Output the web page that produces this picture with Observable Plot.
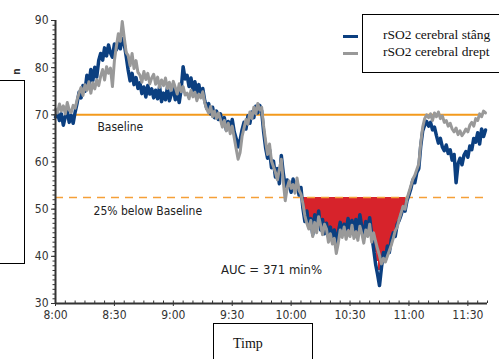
<!DOCTYPE html>
<html><head><meta charset="utf-8">
<script src="https://cdn.jsdelivr.net/npm/d3@7"></script>
<script src="https://cdn.jsdelivr.net/npm/@observablehq/plot@0.6"></script>
<style>
body{margin:0;background:#fff;}
#wrap{position:relative;width:499px;height:359px;overflow:hidden;background:#fff;}
#wrap svg{position:absolute;left:0;top:0;}
.box{position:absolute;border:1.5px solid #000;box-sizing:border-box;background:#fff;}
.serif{font-family:"Liberation Serif","DejaVu Serif",serif;color:#111;}
</style></head><body><div id="wrap"></div>
<script>
// time axis: one sample per minute starting at 8:00
const startTime = "2000-01-01T08:00:00Z";
const endTime = "2000-01-01T11:40:00Z";
// rSO2 cerebral stâng (blue)
const stangValues = [
 69.5,70.5,68.8,70.2,67.8,69.6,70.8,68.4,69.9,68.2,70.6,
 72.5,74.8,73.6,76.2,75.0,
 78.4,76.5,79.6,77.2,80.1,78.0,81.5,
 83.0,81.6,84.2,82.5,84.8,83.1,82.2,85.0,
 83.8,85.6,84.0,86.2,85.0,82.4,
 79.5,77.2,78.8,76.4,77.9,75.6,
 76.8,74.5,75.9,73.8,76.2,74.4,75.5,73.6,
 75.2,73.4,76.0,72.8,74.6,73.2,75.8,73.0,74.4,75.6,
 73.2,74.8,72.6,75.4,80.2,77.6,
 78.4,76.0,77.8,75.2,77.0,74.6,76.4,74.0,75.6,
 73.0,71.4,72.4,70.2,71.6,69.4,70.8,69.0,
 70.2,68.0,69.4,66.8,68.6,67.2,69.0,66.4,
 65.0,63.2,64.6,66.8,
 68.4,67.0,69.8,68.2,70.6,69.4,71.8,70.4,72.0,
 70.8,66.4,63.0,60.8,62.6,58.8,
 60.2,56.8,58.6,55.4,61.4,57.6,54.8,56.2,
 55.2,53.6,56.4,54.2,55.8,53.0,54.6,
 50.2,47.4,49.6,46.2,48.0,44.6,
 48.8,46.4,49.6,45.6,47.8,44.8,
 47.0,44.2,46.2,43.4,45.6,42.8,
 45.0,47.2,44.6,46.8,45.4,48.0,46.0,47.6,45.2,
 47.8,45.6,48.8,46.2,44.4,47.4,45.8,48.2,44.6,
 41.6,38.4,36.2,33.8,
 37.6,40.8,39.4,42.2,40.8,
 43.6,45.0,44.2,46.8,47.6,
 48.8,50.2,49.6,51.8,53.0,
 54.4,56.2,55.6,57.8,58.6,
 63.4,66.6,67.8,68.6,
 67.6,68.4,66.8,67.4,65.6,64.0,65.0,63.2,62.4,63.6,61.8,62.6,60.4,61.6,55.6,
 59.6,60.8,59.4,61.4,62.2,61.0,63.4,62.6,65.0,64.2,66.2,63.8,67.0,65.4,66.8
];
// rSO2 cerebral drept (gray)
const dreptValues = [
 71.2,70.4,72.3,70.8,71.9,70.2,72.6,71.0,70.5,72.0,71.4,
 73.2,74.6,75.8,74.1,76.4,
 75.2,77.0,74.6,76.8,75.5,77.4,76.2,
 78.2,79.6,77.4,80.2,78.8,79.9,76.0,81.5,
 84.5,87.2,85.6,89.8,86.4,83.2,
 82.6,80.4,83.0,79.8,81.5,79.0,
 78.4,76.9,79.2,77.5,78.8,76.6,77.8,78.6,
 76.5,78.0,75.8,77.4,76.2,77.8,75.6,76.9,75.2,77.1,
 75.8,74.4,76.6,74.9,76.0,74.2,
 74.6,73.4,75.2,73.8,74.8,73.0,74.4,73.6,74.9,
 72.6,71.2,70.4,71.8,69.6,70.8,69.2,70.4,
 69.0,67.4,68.8,66.6,68.2,66.0,67.6,65.2,
 62.8,60.6,62.0,65.4,
 67.2,69.0,68.0,70.6,69.2,71.6,70.2,72.4,71.0,
 71.6,67.6,64.4,61.6,63.8,60.2,
 59.0,57.8,56.2,58.4,60.6,55.8,51.8,54.6,
 56.0,54.4,55.2,53.4,56.6,54.0,53.2,
 51.2,48.6,47.0,45.8,47.6,44.2,
 47.2,45.0,48.4,46.6,44.6,46.8,
 45.8,43.0,44.8,42.6,43.8,40.6,
 42.8,45.6,44.0,46.2,43.6,45.4,44.2,46.6,43.8,
 45.2,43.4,46.4,44.8,42.8,45.6,44.2,46.8,43.0,
 45.0,43.2,41.6,40.2,
 38.4,39.6,38.8,40.0,41.2,
 42.4,43.8,45.4,46.2,47.8,
 49.2,50.6,50.0,52.2,53.6,
 55.0,56.4,57.2,58.4,59.6,
 64.0,67.4,69.2,70.0,
 69.4,70.2,68.8,70.4,69.6,70.6,69.2,69.8,68.4,68.8,67.6,68.2,67.0,66.4,67.2,
 65.8,66.6,65.6,66.2,67.0,66.4,67.8,68.4,67.6,69.2,68.8,70.2,69.6,70.8,70.4
];
const seriesNames = ["rSO2 cerebral stâng","rSO2 cerebral drept"];
const seriesColors = ["#0b3f80","#999999"];
const baseline = 70;
const threshold = 52.5;
const baselineFrom = "2000-01-01T08:10:00Z";
const baselineTo = "2000-01-01T11:38:00Z";
const annotations = [
  {text:"Baseline", t:"2000-01-01T08:33:00Z", v:67.3, size:12, weight:400},
  {text:"25% below Baseline", t:"2000-01-01T08:47:00Z", v:49.6, size:12, weight:400},
  {text:"AUC = 371 min%", t:"2000-01-01T09:50:00Z", v:37.2, size:13, weight:700}
];
const yTicks = [30,40,50,60,70,80,90];
const xTitle = "Timp";

const t0 = new Date(startTime).getTime();
const rows = [];
stangValues.forEach((v,i)=>rows.push({t:new Date(t0+i*60000), v, s:seriesNames[0]}));
dreptValues.forEach((v,i)=>rows.push({t:new Date(t0+i*60000), v, s:seriesNames[1]}));
const mean = stangValues.map((v,i)=>({t:new Date(t0+i*60000), v:(v+dreptValues[i])/2}));
const ann = annotations.map(a=>({...a, t:new Date(a.t)}));
const font = '"DejaVu Sans Condensed","Liberation Sans Narrow","Arial Narrow",sans-serif';

const chart = Plot.plot({
  width:499, height:359,
  marginLeft:55, marginRight:12, marginTop:20, marginBottom:56,
  style:{fontFamily:font, fontSize:"12px", color:"#333", background:"transparent", fontStretch:"condensed"},
  x:{type:"utc", domain:[new Date(startTime), new Date(endTime)], label:null},
  y:{domain:[30,90], label:null},
  marks:[
    Plot.areaY(mean, {x:"t", y1:threshold, y2:d=>Math.min(d.v,threshold), fill:"#d7232b", curve:"step"}),
    Plot.ruleY([baseline], {x1:new Date(baselineFrom), x2:new Date(baselineTo), stroke:"#f39a1c", strokeWidth:2}),
    Plot.ruleY([threshold], {x1:new Date(startTime), x2:new Date(baselineTo), stroke:"#f5a038", strokeWidth:1.5, strokeDasharray:"8,6"}),
    Plot.lineY(rows.filter(d=>d.s===seriesNames[0]), {x:"t", y:"v", stroke:seriesColors[0], strokeWidth:3.5}),
    Plot.lineY(rows.filter(d=>d.s===seriesNames[1]), {x:"t", y:"v", stroke:seriesColors[1], strokeWidth:3}),
    Plot.text(ann, {x:"t", y:"v", text:"text", fontSize:d=>d.size, fontWeight:d=>d.weight, fill:"#222"}),
    Plot.axisY({ticks:d3.range(30,91,1), tickSize:2.5, tickFormat:()=>"", stroke:"#333", label:null}),
    Plot.axisY({ticks:yTicks, tickSize:4, tickPadding:3, stroke:"#333", fill:"#333", fontSize:12, label:null}),
    Plot.axisX({ticks:d3.utcMinute.every(5), tickSize:-2.5, tickFormat:()=>"", stroke:"#333", label:null}),
    Plot.axisX({ticks:d3.utcMinute.every(30), tickSize:3, tickPadding:4, tickFormat:d3.utcFormat("%-H:%M"), stroke:"#333", fill:"#333", fontSize:12, label:null}),
    Plot.ruleX([new Date(startTime)], {y1:30, y2:90, stroke:"#333", strokeWidth:2}),
    Plot.ruleY([30], {x1:new Date(startTime), x2:new Date(endTime), stroke:"#333", strokeWidth:2})
  ]
});
const wrap = document.getElementById("wrap");
wrap.appendChild(chart);

function addBox(css){const d=document.createElement("div");d.className="box";Object.assign(d.style,css);wrap.appendChild(d);return d;}
// y title box (mostly cropped)
addBox({left:"-10px", top:"80px", width:"35px", height:"184px"});
const yt=document.createElement("div");
yt.textContent="n";
Object.assign(yt.style,{position:"absolute",left:"13px",top:"66px",font:"bold 10px "+font,color:"#333",transform:"rotate(-90deg)"});
wrap.appendChild(yt);
// legend
const lg = addBox({left:"362px", top:"14px", width:"160px", height:"59px"});
seriesNames.forEach((n,i)=>{
  const sw=document.createElement("div");
  Object.assign(sw.style,{position:"absolute",left:"343px",top:(35+i*17)+"px",width:"15px",height:"3px",background:seriesColors[i]});
  wrap.appendChild(sw);
  const tx=document.createElement("div");
  tx.className="serif";tx.textContent=n;
  Object.assign(tx.style,{position:"absolute",left:"383px",top:(27+i*17)+"px",fontSize:"13.5px",whiteSpace:"nowrap"});
  wrap.appendChild(tx);
});
// x title box
const xb = addBox({left:"213px", top:"323px", width:"100px", height:"50px"});
const xt=document.createElement("div");
xt.className="serif";xt.textContent=xTitle;
Object.assign(xt.style,{position:"absolute",left:"233px",top:"336px",fontSize:"14px"});
wrap.appendChild(xt);
</script></body></html>
